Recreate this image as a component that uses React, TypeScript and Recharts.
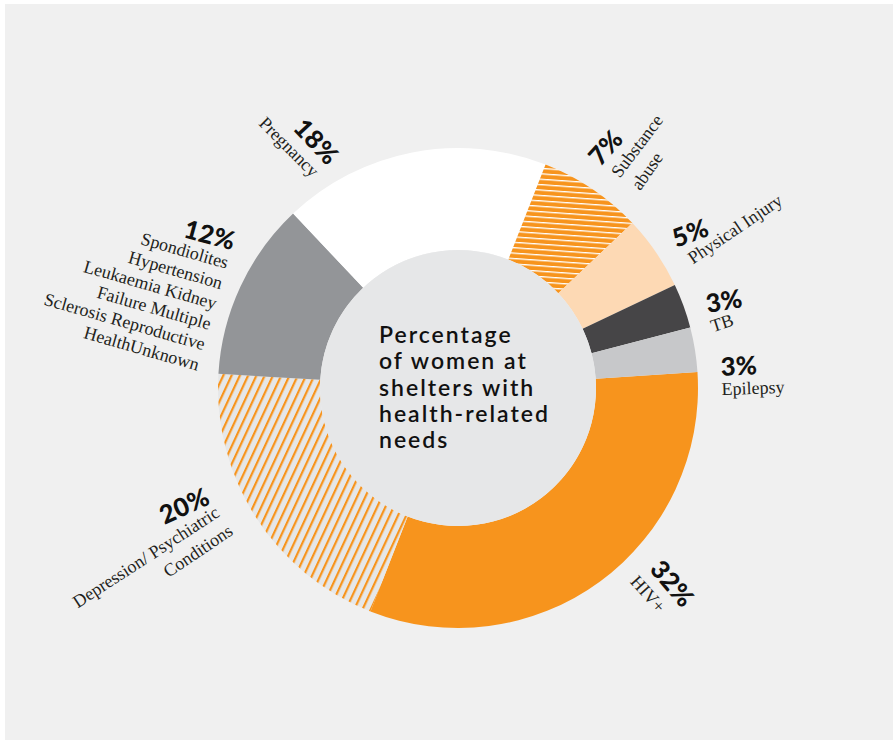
import React from 'react';
import { PieChart, Pie, Cell } from 'recharts';

// health needs of women at shelters (share, %)
const categories = ['HIV+', 'Depression/ Psychiatric Conditions', 'Other conditions', 'Pregnancy', 'Substance abuse', 'Physical Injury', 'TB', 'Epilepsy'];
const shares = [32, 20, 12, 18, 7, 5, 3, 3];
const otherConditions = ['Spondiolites', 'Hypertension', 'Leukaemia Kidney', 'Failure Multiple', 'Sclerosis Reproductive', 'HealthUnknown'];
const centerTitle = ['Percentage', 'of women at', 'shelters with', 'health-related', 'needs'];

const W = 893;
const H = 740;
const CX = 458;
const CY = 388;

const FILLS = ['#f7941d', 'url(#stripeDiag)', '#939598', '#ffffff', 'url(#stripeHoriz)', '#fdd9b4', '#464547', '#c7c8ca'];

// label placement, offsets from the pie centre: [dx, dy, rotation]
const pctPos: number[][] = [
    [215, 195, 50],
    [-274, 117, -24],
    [-248, -154, 15],
    [-141, -247, 47],
    [147, -241, -48],
    [232, -156, -20],
    [266, -88, -10],
    [281, -23, -3],
];
const namePos: { t: string, x: number, y: number, r: number }[][] = [
    [{ t: 'HIV+', x: 190, y: 206, r: 48 }],
    [{ t: 'Depression/ Psychiatric', x: -312, y: 169, r: -33 }, { t: 'Conditions', x: -260, y: 163, r: -34 }],
    [],
    [{ t: 'Pregnancy', x: -169, y: -241, r: 45 }],
    [{ t: 'Substance', x: 179, y: -242, r: -53 }, { t: 'abuse', x: 189, y: -217, r: -55 }],
    [{ t: 'Physical Injury', x: 277, y: -159, r: -34 }],
    [{ t: 'TB', x: 264, y: -65, r: -18 }],
    [{ t: 'Epilepsy', x: 295, y: 0, r: -2 }],
];

const pctStyle = { fontFamily: 'Lato, sans-serif', fontWeight: 900, fontSize: 25.5, fill: '#111111', letterSpacing: 0.3 };
const nameStyle = { fontFamily: '"Liberation Serif", serif', fontSize: 18, fill: '#231f20' };

export default function App() {
    const data = categories.map((name, i) => ({ name, value: shares[i] }));

    return (
        <div style={{ position: 'fixed', left: 0, top: 0, width: W, height: H, background: '#ffffff', overflow: 'hidden' }}>
            <div style={{ position: 'absolute', left: 5, top: 4, right: 0, bottom: 0, background: '#f0f0f0' }} />
            <div style={{ position: 'absolute', left: 0, top: 0 }}>
                <PieChart width={W} height={H} margin={{ top: 0, right: 0, bottom: 0, left: 0 }}>
                    <defs>
                        <pattern id="stripeDiag" patternUnits="userSpaceOnUse" width="7.5" height="10" patternTransform="rotate(25)">
                            <rect x="0" y="0" width="7.5" height="10" fill="#e6e7e8" />
                            <rect x="0" y="0" width="2.2" height="10" fill="#f7941d" />
                        </pattern>
                        <pattern id="stripeHoriz" patternUnits="userSpaceOnUse" width="10" height="5.4" patternTransform="rotate(4)">
                            <rect x="0" y="0" width="10" height="5.4" fill="#f7941d" />
                            <rect x="0" y="0" width="10" height="1.3" fill="#ffffff" />
                        </pattern>
                    </defs>
                    <Pie
                        data={data}
                        dataKey="value"
                        cx={CX}
                        cy={CY}
                        innerRadius={138}
                        outerRadius={240}
                        startAngle={3.8}
                        endAngle={-356.2}
                        stroke="none"
                        isAnimationActive={false}
                    >
                        {data.map((entry, index) => (
                            <Cell key={`cell-${index}`} fill={FILLS[index]} stroke="none" />
                        ))}
                    </Pie>
                    <Pie
                        data={[{ name: 'centre', value: 1 }]}
                        dataKey="value"
                        cx={CX}
                        cy={CY}
                        innerRadius={0}
                        outerRadius={138}
                        stroke="none"
                        fill="#e6e7e8"
                        isAnimationActive={false}
                    />
                </PieChart>
            </div>
            <svg width={W} height={H} style={{ position: 'absolute', left: 0, top: 0 }}>
                {/* percentages */}
                {shares.map((v, i) => {
                    const [dx, dy, r] = pctPos[i];
                    return (
                        <text key={`p-${i}`} x={CX + dx} y={CY + dy} textAnchor="middle" dominantBaseline="central"
                            transform={`rotate(${r} ${CX + dx} ${CY + dy})`} style={pctStyle}>
                            {`${v}%`}
                        </text>
                    );
                })}
                {/* category names */}
                {namePos.map((items, i) => items.map((it, j) => (
                    <text key={`n-${i}-${j}`} x={CX + it.x} y={CY + it.y} textAnchor="middle" dominantBaseline="central"
                        transform={`rotate(${it.r} ${CX + it.x} ${CY + it.y})`} style={nameStyle}>
                        {it.t}
                    </text>
                )))}
                {/* the 12% block, right aligned */}
                <g transform={`translate(${CX - 230} ${CY - 125}) rotate(16)`}>
                    {otherConditions.map((t, i) => (
                        <text key={t} x={0} y={i * 21.2} textAnchor="end" dominantBaseline="central" style={nameStyle}>{t}</text>
                    ))}
                </g>
                {/* centre title */}
                {centerTitle.map((t, i) => (
                    <text key={t} x={379} y={343 + i * 26.3}
                        style={{ fontFamily: 'Lato, sans-serif', fontWeight: 600, fontSize: 23, letterSpacing: 2, fill: '#111111' }}>
                        {t}
                    </text>
                ))}
            </svg>
        </div>
    );
}
